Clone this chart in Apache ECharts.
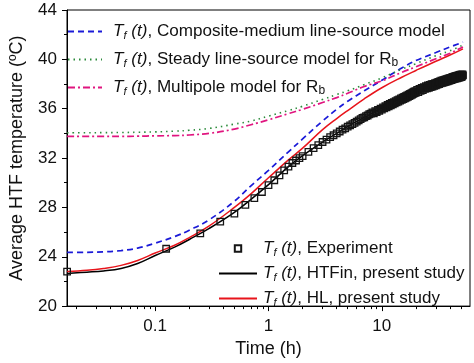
<!DOCTYPE html>
<html><head><meta charset="utf-8">
<script src="https://cdn.jsdelivr.net/npm/echarts@6/dist/echarts.min.js"></script>
<style>html,body{margin:0;padding:0;background:#fff}#c{width:474px;height:363px}</style>
</head><body><div id="c"></div>
<script>
// ---- data (time in h, temperature in °C) ----
const modelTimes   = [0.0167,0.025,0.035,0.05,0.07,0.1,0.15,0.2,0.3,0.5,0.7,1,1.5,2,3,4,5,7,10,15,20,30,40,52];
const compositeLS  = [24.35,24.36,24.4,24.5,24.7,25.1,25.65,26.15,27.0,28.5,29.75,31.0,32.5,33.55,35.0,35.95,36.6,37.45,38.3,39.3,39.9,40.55,41.0,41.4];
const steadyLS     = [34.05,34.05,34.06,34.07,34.09,34.12,34.18,34.25,34.4,34.75,35.0,35.4,35.85,36.2,36.75,37.15,37.45,37.95,38.5,39.2,39.65,40.3,40.7,41.15];
const multipole    = [33.75,33.75,33.75,33.76,33.77,33.8,33.82,33.87,34.0,34.35,34.7,35.1,35.6,35.95,36.5,36.9,37.25,37.8,38.25,38.95,39.4,40.05,40.5,41.0];
const htfin        = [22.65,22.75,22.85,23.05,23.45,24.1,24.8,25.4,26.3,27.6,28.65,29.85,31.3,32.2,33.3,34.0,34.55,35.3,36.05,36.9,37.4,38.0,38.4,38.7];
const hl           = [22.8,22.9,23.05,23.3,23.7,24.3,24.95,25.55,26.5,28.0,29.1,30.4,31.85,32.8,34.3,35.2,35.85,36.8,37.7,38.55,39.1,39.85,40.35,40.85];

const expTimes = [0.0167,0.125,0.25,0.375,0.5,0.625,0.75,0.875,1.0,1.125,1.25,1.375,1.5,1.625,1.75,1.875,2.0,
  2.25,2.5,2.75,3.0,3.25,3.5,3.75,4.0,4.25,4.5,4.75,5.0,5.25,5.5,5.75,6.0,6.25,6.5,6.75,7.0,7.25,7.5,7.75,8.0,
  8.25,8.5,8.75,9.0,9.25,9.5,9.75,10,10.25,10.5,10.75,11,11.25,11.5,11.75,12,12.25,12.5,12.75,13,13.25,13.5,13.75,14,
  14.25,14.5,14.75,15,15.25,15.5,15.75,16,16.25,16.5,16.75,17,17.25,17.5,17.75,18,18.25,18.5,18.75,19,19.25,19.5,19.75,20,
  20.5,21,21.5,22,22.5,23,23.5,24,24.5,25,25.5,26,26.5,27,27.5,28,28.5,29,29.5,30,
  30.5,31,31.5,32,32.5,33,33.5,34,34.5,35,35.5,36,36.5,37,37.5,38,38.5,39,39.5,40,
  40.5,41,41.5,42,42.5,43,43.5,44,44.5,45,45.5,46,46.5,47,47.5,48,48.5,49,49.5,50,
  50.5,51,51.5,52];
const expTemps = [22.8,24.65,25.9,26.85,27.5,28.2,28.75,29.25,29.8,30.2,30.6,31.0,31.3,31.6,31.8,32.0,32.15,
  32.5,32.8,33.05,33.3,33.5,33.7,33.85,34.0,34.15,34.3,34.4,34.55,34.65,34.75,34.85,34.95,35.05,35.15,35.25,35.3,35.4,35.45,35.55,35.6,
  35.7,35.62,35.8,35.72,35.9,35.82,36.0,35.92,36.1,36.02,36.2,36.1,36.3,36.2,36.38,36.28,36.46,36.36,36.54,36.44,36.62,36.52,36.7,36.58,
  36.76,36.66,36.84,36.72,36.9,36.78,36.96,36.84,37.02,36.9,37.08,36.96,37.14,37.02,37.2,37.08,37.26,37.14,37.32,37.2,37.38,37.26,37.42,37.3,
  37.52,37.35,37.6,37.45,37.68,37.5,37.75,37.6,37.82,37.65,37.88,37.7,37.92,37.75,37.98,37.8,38.02,37.85,38.08,37.9,
  38.12,37.95,38.18,38.0,38.22,38.05,38.27,38.1,38.3,38.12,38.34,38.15,38.38,38.2,38.4,38.22,38.44,38.25,38.48,38.3,
  38.5,38.32,38.54,38.35,38.58,38.4,38.6,38.42,38.64,38.45,38.66,38.47,38.68,38.5,38.7,38.52,38.73,38.54,38.75,38.56,
  38.77,38.6,38.78,38.7];

const xMajorTicks = [0.1, 1, 10];
const xMinorTicks = [0.02,0.03,0.04,0.05,0.06,0.07,0.08,0.09,0.2,0.3,0.4,0.5,0.6,0.7,0.8,0.9,2,3,4,5,6,7,8,9,20,30,40,50];
const xRange = [1/60, 60];
const yRange = [20, 44];
const yStep = 4;

const names = {
  comp: '{i|T}{s|f}{i| (t)}{n|, Composite-medium line-source model}',
  steady: '{i|T}{s|f}{i| (t)}{n|, Steady line-source model for R}{ns|b}',
  multi: '{i|T}{s|f}{i| (t)}{n|, Multipole model for R}{ns|b}',
  exp: '{i|T}{s|f}{i| (t)}{n|, Experiment}',
  htfin: '{i|T}{s|f}{i| (t)}{n|, HTFin, present study}',
  hl: '{i|T}{s|f}{i| (t)}{n|, HL, present study}'
};
const FONT = 'Liberation Sans';
function makeRich(fs) {
  return {
    i: {fontFamily: FONT, fontStyle: 'italic', fontSize: fs, lineHeight: 19, color: '#111'},
    s: {fontFamily: FONT, fontStyle: 'italic', fontSize: 11, lineHeight: 12, verticalAlign: 'bottom', color: '#111'},
    n: {fontFamily: FONT, fontSize: fs, lineHeight: 19, color: '#111'},
    ns: {fontFamily: FONT, fontSize: 12, lineHeight: 12, verticalAlign: 'bottom', color: '#111'}
  };
}
const pair = (ts, vs) => ts.map((t, k) => [t, vs[k]]);
const noMark = {opacity: 0};

const chart = echarts.init(document.getElementById('c'), null, {renderer: 'canvas'});
chart.setOption({
  animation: false,
  backgroundColor: '#fff',
  grid: {left: 60, right: 4, top: 10, bottom: 48, show: true, borderColor: '#000', borderWidth: 1, backgroundColor: 'transparent'},
  legend: [
    {data: [{name: 'comp', itemStyle: noMark}, {name: 'steady', itemStyle: noMark}, {name: 'multi', itemStyle: noMark}],
     orient: 'vertical', left: 62, top: 18, itemWidth: 34, itemHeight: 14, itemGap: 10,
     formatter: n => names[n],
     textStyle: {fontFamily: FONT, fontSize: 17.1, color: '#111', padding: [0, 0, 0, 6], rich: makeRich(17.1)}},
    {data: ['exp', {name: 'htfin', itemStyle: noMark}, {name: 'hl', itemStyle: noMark}],
     orient: 'vertical', left: 213, top: 235, itemWidth: 38, itemHeight: 8, itemGap: 7,
     formatter: n => names[n],
     textStyle: {fontFamily: FONT, fontSize: 17, color: '#111', padding: [0, 0, 0, 1], rich: makeRich(17)}}
  ],
  xAxis: [
    {type: 'log', logBase: 10, min: xRange[0], max: xRange[1], position: 'bottom',
     name: 'Time (h)', nameLocation: 'middle', nameGap: 32,
     nameTextStyle: {fontFamily: FONT, fontSize: 18, color: '#111'},
     axisLine: {show: true, lineStyle: {color: '#000', width: 1}},
     axisTick: {show: true, inside: false, length: 5, customValues: xMajorTicks, lineStyle: {color: '#000'}},
     axisLabel: {show: true, customValues: xMajorTicks, margin: 12, fontFamily: FONT, fontSize: 17, color: '#111',
                 formatter: v => String(+Number(v).toPrecision(3))},
     splitLine: {show: false}, minorTick: {show: false}},
    {type: 'log', logBase: 10, min: xRange[0], max: xRange[1], position: 'bottom',
     axisLine: {show: false},
     axisTick: {show: true, inside: false, length: 3, customValues: xMinorTicks, lineStyle: {color: '#000'}},
     axisLabel: {show: false}, splitLine: {show: false}}
  ],
  yAxis: {type: 'value', min: yRange[0], max: yRange[1], interval: yStep,
    name: 'Average HTF temperature (\u00baC)', nameLocation: 'middle', nameGap: 41,
    nameTextStyle: {fontFamily: FONT, fontSize: 18, color: '#111'},
    axisLine: {show: true, lineStyle: {color: '#000', width: 1}},
    axisTick: {show: true, inside: false, length: 5, lineStyle: {color: '#000'}},
    minorTick: {show: true, splitNumber: 2, length: 3, lineStyle: {color: '#000'}},
    axisLabel: {margin: 10, fontFamily: FONT, fontSize: 17, color: '#111'},
    splitLine: {show: false}},
  series: [
    {name: 'comp', type: 'line', data: pair(modelTimes, compositeLS), symbol: 'none', smooth: 0.4,
     lineStyle: {color: '#1a1ad8', width: 1.7, type: [6, 4]}, itemStyle: {color: '#1a1ad8'}},
    {name: 'steady', type: 'line', data: pair(modelTimes, steadyLS), symbol: 'none', smooth: 0.4,
     lineStyle: {color: '#2a8a3a', width: 1.6, type: [1.5, 4]}, itemStyle: {color: '#2a8a3a'}},
    {name: 'multi', type: 'line', data: pair(modelTimes, multipole), symbol: 'none', smooth: 0.4,
     lineStyle: {color: '#e0157f', width: 1.7, type: [7, 3, 2, 3]}, itemStyle: {color: '#e0157f'}},
    {name: 'exp', type: 'line', data: pair(expTimes, expTemps), symbol: 'rect', symbolSize: 6.5, showSymbol: true, showAllSymbol: true,
     lineStyle: {width: 0, opacity: 0}, itemStyle: {color: 'rgba(0,0,0,0)', borderColor: '#151515', borderWidth: 1.3}},
    {name: 'htfin', type: 'line', data: pair(modelTimes, htfin), symbol: 'none', smooth: 0.4,
     lineStyle: {color: '#000', width: 1.5}, itemStyle: {color: '#000'}},
    {name: 'hl', type: 'line', data: pair(modelTimes, hl), symbol: 'none', smooth: 0.4,
     lineStyle: {color: '#e8141b', width: 1.5}, itemStyle: {color: '#e8141b'}}
  ]
});
</script></body></html>
